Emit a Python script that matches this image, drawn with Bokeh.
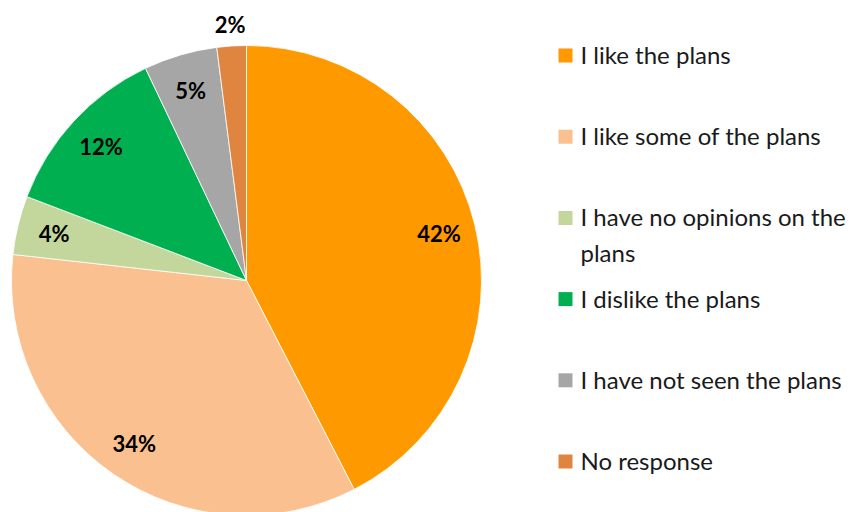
import math
from bokeh.plotting import figure
from bokeh.models import Range1d, ColumnDataSource
from bokeh.core.properties import value
from bokeh.embed import file_html
from bokeh.resources import INLINE

categories = ["I like the plans", "I like some of the plans",
              "I have no opinions on the\nplans", "I dislike the plans",
              "I have not seen the plans", "No response"]
percents = [42, 34, 4, 12, 5, 2]
labels = ["42%", "34%", "4%", "12%", "5%", "2%"]
colors = ["#FF9900", "#FAC090", "#C3D69B", "#00B050", "#A6A6A6", "#DF8540"]

W, H = 855, 512
FONT = "Lato"
LEG_FS = 24
LEG_LH = 1.22

p = figure(width=W, height=H, output_backend="svg", toolbar_location=None,
           x_range=Range1d(0, W), y_range=Range1d(0, H), min_border=0)
p.axis.visible = False
p.grid.visible = False
p.outline_line_color = None
p.background_fill_color = "white"

cx, cy, R = 246, 232, 235
total = sum(percents)
starts, ends, lx, ly = [], [], [], []
acc = 0.0
for i, v in enumerate(percents):
    a0 = math.pi / 2 - 2 * math.pi * acc / total
    a1 = math.pi / 2 - 2 * math.pi * (acc + v) / total
    starts.append(a0)
    ends.append(a1)
    mid = (a0 + a1) / 2
    r = 257 if v < 3 else 198
    lx.append(cx + r * math.cos(mid))
    ly.append(cy + r * math.sin(mid))
    acc += v

src = ColumnDataSource(dict(start=starts, end=ends, color=colors,
                            lx=lx, ly=ly, label=labels))
p.wedge(x=cx, y=cy, radius=R, start_angle="start", end_angle="end",
        direction="clock", fill_color="color", line_color="white",
        line_width=0.8, source=src)
p.text(x="lx", y="ly", text="label", source=src, text_font=value(FONT),
       text_font_style="bold", text_font_size="22px", text_color="black",
       text_align="center", text_baseline="middle")

# legend
leg_y0 = H - 55
step = 81.2
ky = [leg_y0 - i * step for i in range(len(categories))]
kx = [565] * len(categories)
tx = [580] * len(categories)
lsrc = ColumnDataSource(dict(kx=kx, ky=ky, tx=tx, cat=categories, color=colors))
p.scatter(x="kx", y="ky", marker="square", size=14, fill_color="color",
          line_color=None, source=lsrc)
p.text(x="tx", y="ky", text="cat", source=lsrc, text_font=value(FONT),
       text_font_size=f"{LEG_FS}px", text_color="#1a1a1a", text_align="left",
       text_baseline="top", y_offset=-LEG_FS * 1.3 / 2,
       text_line_height=LEG_LH)

open("out.html", "w").write(file_html(p, INLINE))
